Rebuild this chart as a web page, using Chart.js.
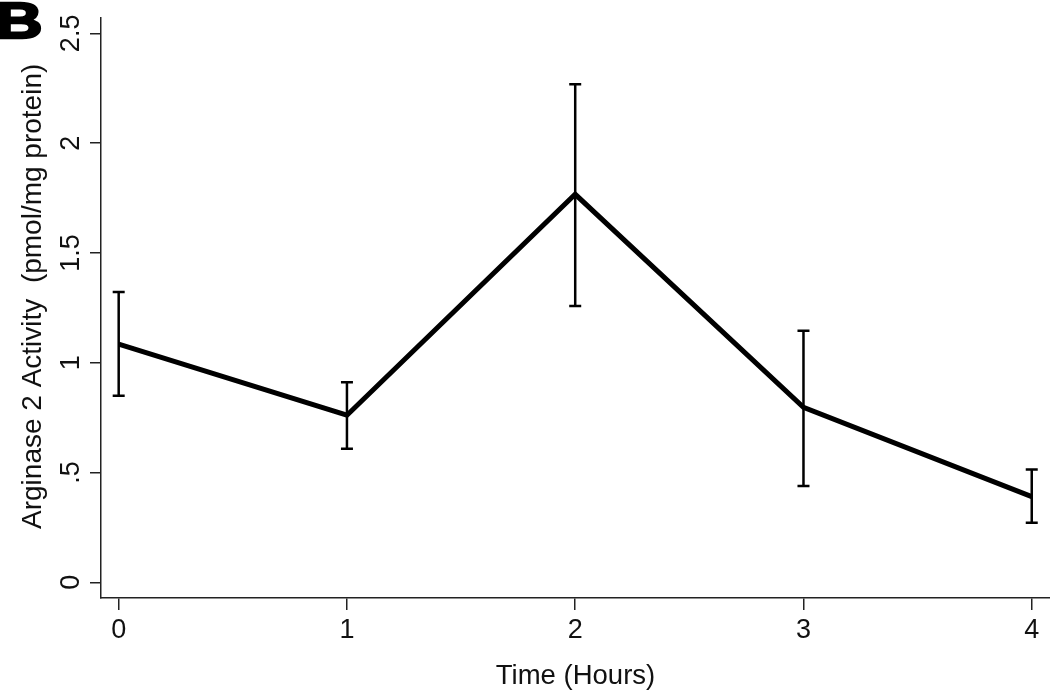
<!DOCTYPE html>
<html>
<head>
<meta charset="utf-8">
<script src="https://cdn.jsdelivr.net/npm/chart.js@4.4.0/dist/chart.umd.min.js"></script>
<style>
  html, body { margin: 0; padding: 0; background: #fff; }
  #wrap { width: 1050px; height: 693px; position: relative; }
</style>
</head>
<body>
<div id="wrap"><canvas id="argChart"></canvas></div>
<script>
// values
const timeHours = [0, 1, 2, 3, 4];
const meanActivity = [1.085, 0.761, 1.767, 0.797, 0.390];
const upperActivity = [1.322, 0.911, 2.268, 1.146, 0.514];
const lowerActivity = [0.850, 0.608, 1.258, 0.439, 0.271];
const xTickValues = [0, 1, 2, 3, 4];
const yTickValues = [0, 0.5, 1, 1.5, 2, 2.5];
const yTickLabels = ['0', '.5', '1', '1.5', '2', '2.5'];

const FONT = 'Liberation Sans, Arial, sans-serif';

// error bars with small caps, drawn under the line
const errorBars = {
    id: 'errorBars',
    beforeDatasetsDraw(chart) {
        const { ctx, scales: { x, y } } = chart;
        const cap = 6;
        ctx.save();
        ctx.strokeStyle = '#000';
        ctx.lineWidth = 2.5;
        timeHours.forEach((t, i) => {
            const px = x.getPixelForValue(t);
            const top = y.getPixelForValue(upperActivity[i]);
            const bot = y.getPixelForValue(lowerActivity[i]);
            ctx.beginPath();
            ctx.moveTo(px, top);
            ctx.lineTo(px, bot);
            ctx.moveTo(px - cap, top);
            ctx.lineTo(px + cap, top);
            ctx.moveTo(px - cap, bot);
            ctx.lineTo(px + cap, bot);
            ctx.stroke();
        });
        ctx.restore();
    }
};

// heavy panel letter in the top-left corner
const panelLetter = {
    id: 'panelLetter',
    afterDraw(chart) {
        const ctx = chart.ctx;
        ctx.save();
        ctx.translate(-4.5, 38);
        ctx.scale(1.3, 1);
        ctx.fillStyle = '#000';
        ctx.strokeStyle = '#000';
        ctx.lineWidth = 2.5;
        ctx.lineJoin = 'round';
        ctx.font = 'bold 50px ' + FONT;
        ctx.textBaseline = 'alphabetic';
        ctx.textAlign = 'left';
        ctx.fillText('B', 0, 0);
        ctx.strokeText('B', 0, 0);
        ctx.restore();
    }
};

const ctx = document.getElementById('argChart').getContext('2d');
new Chart(ctx, {
    type: 'line',
    data: {
        datasets: [{
            data: timeHours.map((t, i) => ({ x: t, y: meanActivity[i] })),
            borderColor: '#000',
            borderWidth: 5,
            pointRadius: 0,
            tension: 0,
            fill: false
        }]
    },
    options: {
        responsive: true,
        maintainAspectRatio: false,
        animation: false,
        layout: { padding: { top: 18, right: 0, bottom: 0, left: 0 } },
        plugins: {
            legend: { display: false },
            tooltip: { enabled: false }
        },
        scales: {
            x: {
                type: 'linear',
                min: -0.0775,
                max: 4.08,
                afterBuildTicks: (scale) => {
                    scale.ticks = xTickValues.map(v => ({ value: v }));
                },
                afterFit: (scale) => { scale.height = 95; },
                border: { display: true, color: '#222', width: 1.5 },
                grid: {
                    drawOnChartArea: false,
                    drawTicks: true,
                    tickLength: 12,
                    color: '#222',
                    lineWidth: 1.5
                },
                ticks: {
                    color: '#111',
                    font: { family: FONT, size: 27 },
                    padding: 4,
                    maxRotation: 0,
                    minRotation: 0,
                    callback: (v) => String(v)
                },
                title: {
                    display: true,
                    text: 'Time (Hours)',
                    color: '#111',
                    font: { family: FONT, size: 27.5 },
                    padding: { top: 0, bottom: 0 }
                }
            },
            y: {
                type: 'linear',
                min: -0.0715,
                max: 2.57,
                afterBuildTicks: (scale) => {
                    scale.ticks = yTickValues.map(v => ({ value: v }));
                },
                afterFit: (scale) => { scale.width = 101; },
                border: { display: true, color: '#222', width: 1.5 },
                grid: {
                    drawOnChartArea: false,
                    drawTicks: true,
                    tickLength: 11,
                    color: '#222',
                    lineWidth: 1.5
                },
                ticks: {
                    color: '#111',
                    font: { family: FONT, size: 27 },
                    padding: 0,
                    minRotation: 90,
                    maxRotation: 90,
                    crossAlign: 'center',
                    callback: (v) => {
                        const idx = yTickValues.indexOf(v);
                        return idx >= 0 ? yTickLabels[idx] : '';
                    }
                },
                title: {
                    display: true,
                    // leading spaces nudge the centred title up, as in the figure
                    text: '   Arginase 2 Activity  (pmol/mg protein)',
                    color: '#111',
                    font: { family: FONT, size: 28 },
                    padding: { top: 16, bottom: 0 }
                }
            }
        }
    },
    plugins: [errorBars, panelLetter]
});
</script>
</body>
</html>
